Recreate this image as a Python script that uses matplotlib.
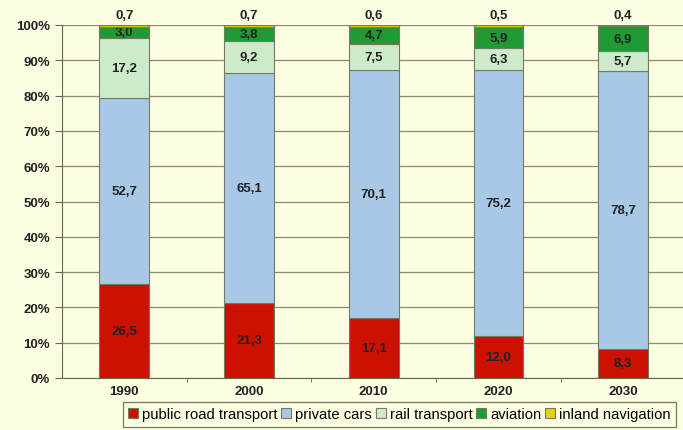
import numpy as np
import matplotlib.pyplot as plt

plt.rcParams['font.family'] = ['Liberation Sans', 'DejaVu Sans']

years = ["1990", "2000", "2010", "2020", "2030"]
public_road = [26.5, 21.3, 17.1, 12.0, 8.3]
private_cars = [52.7, 65.1, 70.1, 75.2, 78.7]
rail = [17.2, 9.2, 7.5, 6.3, 5.7]
aviation = [3.0, 3.8, 4.7, 5.9, 6.9]
inland = [0.7, 0.7, 0.6, 0.5, 0.4]

series = [
    ("public road transport", public_road, "#cc1100"),
    ("private cars", private_cars, "#a8c8e6"),
    ("rail transport", rail, "#cdebcb"),
    ("aviation", aviation, "#1f9a34"),
    ("inland navigation", inland, "#e6cf10"),
]

bg = "#fdfde2"
fig = plt.figure(figsize=(6.83, 4.31), dpi=100, facecolor=bg)
ax = fig.add_axes([62 / 683, 52 / 431, 621 / 683, 353 / 431])
ax.set_facecolor(bg)

x = np.arange(len(years))
bottom = np.zeros(len(years))
for name, vals, col in series:
    vals = np.array(vals)
    ax.bar(x, vals, 0.4, bottom=bottom, color=col, edgecolor="#777766",
           linewidth=0.8, label=name, zorder=3)
    for i, v in enumerate(vals):
        if name == "inland navigation":
            ax.text(x[i], 101.2, f"{v:.1f}".replace(".", ","), ha="center",
                    va="bottom", fontsize=9.5, fontweight="bold", color="#222222")
        else:
            ax.text(x[i], bottom[i] + v / 2, f"{v:.1f}".replace(".", ","),
                    ha="center", va="center", fontsize=9.5, fontweight="bold",
                    color="#222222")
    bottom = bottom + vals

ax.set_ylim(0, 100)
ax.set_xlim(-0.5, 4.48)
ax.set_yticks(np.arange(0, 101, 10))
ax.set_yticklabels([f"{t}%" for t in range(0, 101, 10)], fontsize=9.5,
                   fontweight="bold", color="#222222")
ax.set_xticks(x)
ax.set_xticklabels(years, fontsize=9.5, fontweight="bold", color="#222222")
ax.tick_params(axis="x", length=0, pad=5)
ax.set_xticks(np.arange(0.5, 4.5, 1), minor=True)
ax.tick_params(axis="x", which="minor", length=3, color="#666655")
ax.tick_params(axis="y", length=5, color="#666655", direction="out")
ax.grid(axis="y", color="#8a8a78", linewidth=0.9, zorder=0)
for s in ["top", "right"]:
    ax.spines[s].set_visible(False)
ax.spines["left"].set_color("#666655")
ax.spines["bottom"].set_color("#666655")

leg = ax.legend(loc="center", bbox_to_anchor=(0.543, -0.103), ncol=5,
                frameon=True, fancybox=False, fontsize=10.6, handlelength=0.7,
                handleheight=0.7, handletextpad=0.25, columnspacing=0.25,
                borderpad=0.35, borderaxespad=0, edgecolor="#555544")
leg.get_frame().set_facecolor(bg)
leg.get_frame().set_linewidth(0.9)

fig.savefig("out.png", dpi=100, facecolor=bg)
